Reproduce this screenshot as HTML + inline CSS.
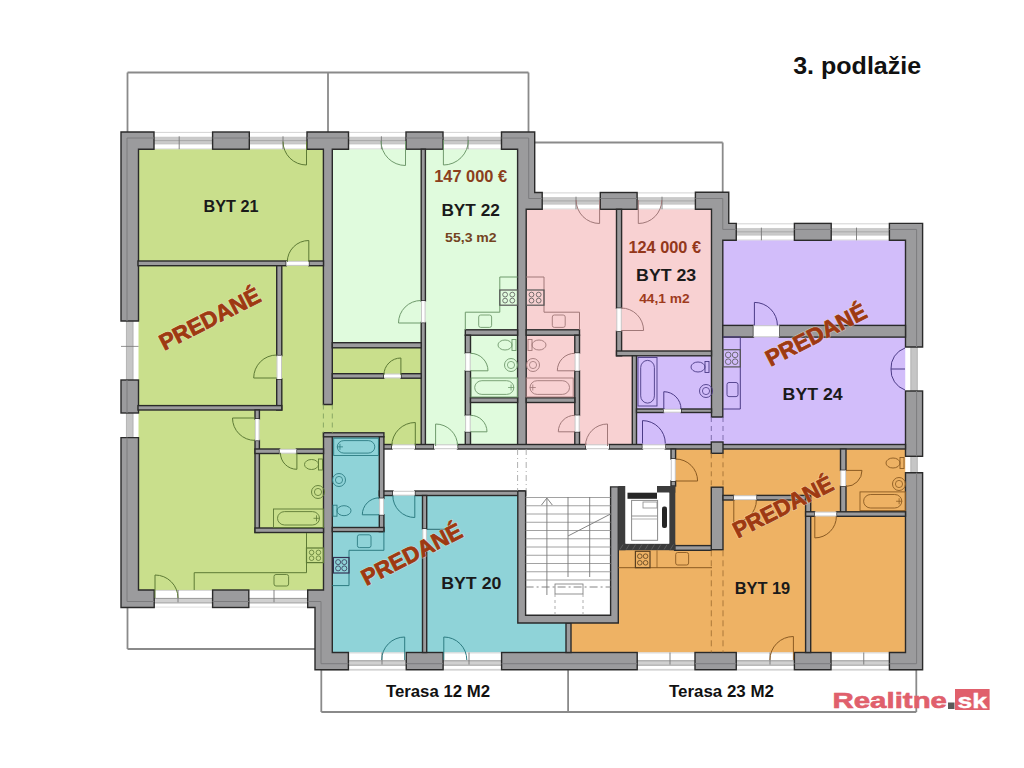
<!DOCTYPE html><html><head><meta charset="utf-8"><style>html,body{margin:0;padding:0;background:#fff;width:1024px;height:768px;overflow:hidden}svg{display:block}text{font-family:"Liberation Sans",sans-serif}</style></head><body>
<svg width="1024" height="768" viewBox="0 0 1024 768">
<rect width="1024" height="768" fill="#fff"/>
<line x1="127.5" y1="72.5" x2="528.5" y2="72.5" stroke="#8a8a8a" stroke-width="1.8" />
<line x1="127.5" y1="72.5" x2="127.5" y2="132" stroke="#8a8a8a" stroke-width="1.8" />
<line x1="328" y1="72.5" x2="328" y2="132" stroke="#8a8a8a" stroke-width="1.8" />
<line x1="528.5" y1="72.5" x2="528.5" y2="132" stroke="#8a8a8a" stroke-width="1.8" />
<line x1="534.7" y1="142.5" x2="722.7" y2="142.5" stroke="#8a8a8a" stroke-width="1.8" />
<line x1="722.7" y1="142.5" x2="722.7" y2="192.5" stroke="#8a8a8a" stroke-width="1.8" />
<line x1="127.5" y1="607" x2="127.5" y2="649" stroke="#8a8a8a" stroke-width="1.8" />
<line x1="127.5" y1="649" x2="315" y2="649" stroke="#8a8a8a" stroke-width="1.8" />
<line x1="321.3" y1="652" x2="321.3" y2="712" stroke="#8a8a8a" stroke-width="1.8" />
<line x1="321.3" y1="712" x2="916.3" y2="712" stroke="#8a8a8a" stroke-width="1.8" />
<line x1="916.3" y1="669.7" x2="916.3" y2="712" stroke="#8a8a8a" stroke-width="1.8" />
<line x1="568.1" y1="669.7" x2="568.1" y2="712" stroke="#8a8a8a" stroke-width="1.8" />
<line x1="321.3" y1="669.7" x2="916.3" y2="669.7" stroke="#8a8a8a" stroke-width="1.2" />
<polygon points="138,149 323.5,149 323.5,347 423,347 423,447 384,447 384,433 323.5,433 323.5,590 138,590" fill="#c9df8c"/>
<rect x="332" y="149" width="91" height="195" fill="#e0fbdd"/>
<rect x="421" y="149" width="97" height="298" fill="#e0fbdd"/>
<polygon points="526,209 712,209 712,356 634,356 634,447 526,447" fill="#f8d1d2"/>
<polygon points="712,240 905.5,240 905.5,446 636,446 636,355 712,355" fill="#d2bdfa"/>
<polygon points="674.6,447 905.5,447 905.5,652.5 568,652.5 568,620 615,620 615,549 674.6,549" fill="#eeb264"/>
<polygon points="332,435 382,435 382,494 518,494 518,620 568,620 568,652.5 332,652.5" fill="#8fd3d8"/>
<rect x="154" y="132" width="58.6" height="17.2" fill="#ffffff"/>
<rect x="154" y="137.16" width="58.6" height="6.88" fill="#cacaca"/>
<line x1="154" y1="140.6" x2="212.6" y2="140.6" stroke="#a4a4a4" stroke-width="0.9" />
<line x1="154" y1="137.16" x2="212.6" y2="137.16" stroke="#bdbdbd" stroke-width="0.6" />
<line x1="154" y1="144.04" x2="212.6" y2="144.04" stroke="#bdbdbd" stroke-width="0.6" />
<line x1="154" y1="132.4" x2="212.6" y2="132.4" stroke="#c8c8c8" stroke-width="0.8" />
<line x1="154" y1="148.79999999999998" x2="212.6" y2="148.79999999999998" stroke="#c8c8c8" stroke-width="0.6" />
<line x1="179.2" y1="136.3" x2="179.2" y2="149.2" stroke="#777" stroke-width="0.9" />
<rect x="249.3" y="132" width="57.7" height="17.2" fill="#ffffff"/>
<rect x="249.3" y="137.16" width="57.7" height="6.88" fill="#cacaca"/>
<line x1="249.3" y1="140.6" x2="307" y2="140.6" stroke="#a4a4a4" stroke-width="0.9" />
<line x1="249.3" y1="137.16" x2="307" y2="137.16" stroke="#bdbdbd" stroke-width="0.6" />
<line x1="249.3" y1="144.04" x2="307" y2="144.04" stroke="#bdbdbd" stroke-width="0.6" />
<line x1="249.3" y1="132.4" x2="307" y2="132.4" stroke="#c8c8c8" stroke-width="0.8" />
<line x1="249.3" y1="148.79999999999998" x2="307" y2="148.79999999999998" stroke="#c8c8c8" stroke-width="0.6" />
<line x1="283" y1="136.3" x2="283" y2="149.2" stroke="#777" stroke-width="0.9" />
<rect x="348.5" y="132" width="57.5" height="17.2" fill="#ffffff"/>
<rect x="348.5" y="137.16" width="57.5" height="6.88" fill="#cacaca"/>
<line x1="348.5" y1="140.6" x2="406" y2="140.6" stroke="#a4a4a4" stroke-width="0.9" />
<line x1="348.5" y1="137.16" x2="406" y2="137.16" stroke="#bdbdbd" stroke-width="0.6" />
<line x1="348.5" y1="144.04" x2="406" y2="144.04" stroke="#bdbdbd" stroke-width="0.6" />
<line x1="348.5" y1="132.4" x2="406" y2="132.4" stroke="#c8c8c8" stroke-width="0.8" />
<line x1="348.5" y1="148.79999999999998" x2="406" y2="148.79999999999998" stroke="#c8c8c8" stroke-width="0.6" />
<line x1="381.4" y1="136.3" x2="381.4" y2="149.2" stroke="#777" stroke-width="0.9" />
<rect x="443" y="132" width="58.5" height="17.2" fill="#ffffff"/>
<rect x="443" y="137.16" width="58.5" height="6.88" fill="#cacaca"/>
<line x1="443" y1="140.6" x2="501.5" y2="140.6" stroke="#a4a4a4" stroke-width="0.9" />
<line x1="443" y1="137.16" x2="501.5" y2="137.16" stroke="#bdbdbd" stroke-width="0.6" />
<line x1="443" y1="144.04" x2="501.5" y2="144.04" stroke="#bdbdbd" stroke-width="0.6" />
<line x1="443" y1="132.4" x2="501.5" y2="132.4" stroke="#c8c8c8" stroke-width="0.8" />
<line x1="443" y1="148.79999999999998" x2="501.5" y2="148.79999999999998" stroke="#c8c8c8" stroke-width="0.6" />
<line x1="468" y1="136.3" x2="468" y2="149.2" stroke="#777" stroke-width="0.9" />
<rect x="542.2" y="192.5" width="58.1" height="16.8" fill="#ffffff"/>
<rect x="542.2" y="197.54" width="58.1" height="6.72" fill="#cacaca"/>
<line x1="542.2" y1="200.9" x2="600.3" y2="200.9" stroke="#a4a4a4" stroke-width="0.9" />
<line x1="542.2" y1="197.54" x2="600.3" y2="197.54" stroke="#bdbdbd" stroke-width="0.6" />
<line x1="542.2" y1="204.26000000000002" x2="600.3" y2="204.26000000000002" stroke="#bdbdbd" stroke-width="0.6" />
<line x1="542.2" y1="192.9" x2="600.3" y2="192.9" stroke="#c8c8c8" stroke-width="0.8" />
<line x1="542.2" y1="208.9" x2="600.3" y2="208.9" stroke="#c8c8c8" stroke-width="0.6" />
<line x1="576" y1="196.7" x2="576" y2="209.3" stroke="#777" stroke-width="0.9" />
<rect x="637.1" y="192.5" width="58.3" height="16.8" fill="#ffffff"/>
<rect x="637.1" y="197.54" width="58.3" height="6.72" fill="#cacaca"/>
<line x1="637.1" y1="200.9" x2="695.4" y2="200.9" stroke="#a4a4a4" stroke-width="0.9" />
<line x1="637.1" y1="197.54" x2="695.4" y2="197.54" stroke="#bdbdbd" stroke-width="0.6" />
<line x1="637.1" y1="204.26000000000002" x2="695.4" y2="204.26000000000002" stroke="#bdbdbd" stroke-width="0.6" />
<line x1="637.1" y1="192.9" x2="695.4" y2="192.9" stroke="#c8c8c8" stroke-width="0.8" />
<line x1="637.1" y1="208.9" x2="695.4" y2="208.9" stroke="#c8c8c8" stroke-width="0.6" />
<line x1="662" y1="196.7" x2="662" y2="209.3" stroke="#777" stroke-width="0.9" />
<rect x="736.25" y="223.4" width="58.15" height="16.9" fill="#ffffff"/>
<rect x="736.25" y="228.47" width="58.15" height="6.76" fill="#cacaca"/>
<line x1="736.25" y1="231.85000000000002" x2="794.4" y2="231.85000000000002" stroke="#a4a4a4" stroke-width="0.9" />
<line x1="736.25" y1="228.47" x2="794.4" y2="228.47" stroke="#bdbdbd" stroke-width="0.6" />
<line x1="736.25" y1="235.23000000000002" x2="794.4" y2="235.23000000000002" stroke="#bdbdbd" stroke-width="0.6" />
<line x1="736.25" y1="223.8" x2="794.4" y2="223.8" stroke="#c8c8c8" stroke-width="0.8" />
<line x1="736.25" y1="239.9" x2="794.4" y2="239.9" stroke="#c8c8c8" stroke-width="0.6" />
<line x1="761.4" y1="227.625" x2="761.4" y2="240.3" stroke="#777" stroke-width="0.9" />
<rect x="831.2" y="223.4" width="58.2" height="16.9" fill="#ffffff"/>
<rect x="831.2" y="228.47" width="58.2" height="6.76" fill="#cacaca"/>
<line x1="831.2" y1="231.85000000000002" x2="889.4" y2="231.85000000000002" stroke="#a4a4a4" stroke-width="0.9" />
<line x1="831.2" y1="228.47" x2="889.4" y2="228.47" stroke="#bdbdbd" stroke-width="0.6" />
<line x1="831.2" y1="235.23000000000002" x2="889.4" y2="235.23000000000002" stroke="#bdbdbd" stroke-width="0.6" />
<line x1="831.2" y1="223.8" x2="889.4" y2="223.8" stroke="#c8c8c8" stroke-width="0.8" />
<line x1="831.2" y1="239.9" x2="889.4" y2="239.9" stroke="#c8c8c8" stroke-width="0.6" />
<line x1="856.5" y1="227.625" x2="856.5" y2="240.3" stroke="#777" stroke-width="0.9" />
<rect x="154.2" y="590" width="58.4" height="17.5" fill="#ffffff"/>
<rect x="154.2" y="598.4" width="58.4" height="4.55" fill="#d0d0d0"/>
<line x1="154.2" y1="598.4" x2="212.6" y2="598.4" stroke="#8e8e8e" stroke-width="0.9" />
<line x1="154.2" y1="602.95" x2="212.6" y2="602.95" stroke="#9a9a9a" stroke-width="0.9" />
<line x1="154.2" y1="590.4" x2="212.6" y2="590.4" stroke="#c8c8c8" stroke-width="0.8" />
<line x1="154.2" y1="607.1" x2="212.6" y2="607.1" stroke="#c8c8c8" stroke-width="0.6" />
<line x1="178" y1="590" x2="178" y2="602.25" stroke="#777" stroke-width="0.9" />
<rect x="248.8" y="590" width="58.9" height="17.5" fill="#ffffff"/>
<rect x="248.8" y="598.4" width="58.9" height="4.55" fill="#d0d0d0"/>
<line x1="248.8" y1="598.4" x2="307.7" y2="598.4" stroke="#8e8e8e" stroke-width="0.9" />
<line x1="248.8" y1="602.95" x2="307.7" y2="602.95" stroke="#9a9a9a" stroke-width="0.9" />
<line x1="248.8" y1="590.4" x2="307.7" y2="590.4" stroke="#c8c8c8" stroke-width="0.8" />
<line x1="248.8" y1="607.1" x2="307.7" y2="607.1" stroke="#c8c8c8" stroke-width="0.6" />
<line x1="274" y1="590" x2="274" y2="602.25" stroke="#777" stroke-width="0.9" />
<rect x="348.4" y="652.5" width="57.85" height="17.2" fill="#ffffff"/>
<rect x="348.4" y="660.756" width="57.85" height="4.47" fill="#d0d0d0"/>
<line x1="348.4" y1="660.756" x2="406.25" y2="660.756" stroke="#8e8e8e" stroke-width="0.9" />
<line x1="348.4" y1="665.2280000000001" x2="406.25" y2="665.2280000000001" stroke="#9a9a9a" stroke-width="0.9" />
<line x1="348.4" y1="652.9" x2="406.25" y2="652.9" stroke="#c8c8c8" stroke-width="0.8" />
<line x1="348.4" y1="669.3000000000001" x2="406.25" y2="669.3000000000001" stroke="#c8c8c8" stroke-width="0.6" />
<line x1="382" y1="652.5" x2="382" y2="664.5400000000001" stroke="#777" stroke-width="0.9" />
<rect x="443.1" y="652.5" width="58.5" height="17.2" fill="#ffffff"/>
<rect x="443.1" y="660.756" width="58.5" height="4.47" fill="#d0d0d0"/>
<line x1="443.1" y1="660.756" x2="501.6" y2="660.756" stroke="#8e8e8e" stroke-width="0.9" />
<line x1="443.1" y1="665.2280000000001" x2="501.6" y2="665.2280000000001" stroke="#9a9a9a" stroke-width="0.9" />
<line x1="443.1" y1="652.9" x2="501.6" y2="652.9" stroke="#c8c8c8" stroke-width="0.8" />
<line x1="443.1" y1="669.3000000000001" x2="501.6" y2="669.3000000000001" stroke="#c8c8c8" stroke-width="0.6" />
<line x1="469" y1="652.5" x2="469" y2="664.5400000000001" stroke="#777" stroke-width="0.9" />
<rect x="637.2" y="652.5" width="57.8" height="17.2" fill="#ffffff"/>
<rect x="637.2" y="660.756" width="57.8" height="4.47" fill="#d0d0d0"/>
<line x1="637.2" y1="660.756" x2="695" y2="660.756" stroke="#8e8e8e" stroke-width="0.9" />
<line x1="637.2" y1="665.2280000000001" x2="695" y2="665.2280000000001" stroke="#9a9a9a" stroke-width="0.9" />
<line x1="637.2" y1="652.9" x2="695" y2="652.9" stroke="#c8c8c8" stroke-width="0.8" />
<line x1="637.2" y1="669.3000000000001" x2="695" y2="669.3000000000001" stroke="#c8c8c8" stroke-width="0.6" />
<line x1="670" y1="652.5" x2="670" y2="664.5400000000001" stroke="#777" stroke-width="0.9" />
<rect x="736.25" y="652.5" width="58.15" height="17.2" fill="#ffffff"/>
<rect x="736.25" y="660.756" width="58.15" height="4.47" fill="#d0d0d0"/>
<line x1="736.25" y1="660.756" x2="794.4" y2="660.756" stroke="#8e8e8e" stroke-width="0.9" />
<line x1="736.25" y1="665.2280000000001" x2="794.4" y2="665.2280000000001" stroke="#9a9a9a" stroke-width="0.9" />
<line x1="736.25" y1="652.9" x2="794.4" y2="652.9" stroke="#c8c8c8" stroke-width="0.8" />
<line x1="736.25" y1="669.3000000000001" x2="794.4" y2="669.3000000000001" stroke="#c8c8c8" stroke-width="0.6" />
<line x1="770" y1="652.5" x2="770" y2="664.5400000000001" stroke="#777" stroke-width="0.9" />
<rect x="831" y="652.5" width="58.4" height="17.2" fill="#ffffff"/>
<rect x="831" y="660.756" width="58.4" height="4.47" fill="#d0d0d0"/>
<line x1="831" y1="660.756" x2="889.4" y2="660.756" stroke="#8e8e8e" stroke-width="0.9" />
<line x1="831" y1="665.2280000000001" x2="889.4" y2="665.2280000000001" stroke="#9a9a9a" stroke-width="0.9" />
<line x1="831" y1="652.9" x2="889.4" y2="652.9" stroke="#c8c8c8" stroke-width="0.8" />
<line x1="831" y1="669.3000000000001" x2="889.4" y2="669.3000000000001" stroke="#c8c8c8" stroke-width="0.6" />
<line x1="863.75" y1="652.5" x2="863.75" y2="664.5400000000001" stroke="#777" stroke-width="0.9" />
<rect x="121" y="321" width="17.5" height="59" fill="#ffffff"/>
<rect x="126.425" y="321" width="6.65" height="59" fill="#c6c6c6"/>
<line x1="126.425" y1="321" x2="126.425" y2="380" stroke="#a8a8a8" stroke-width="0.8" />
<line x1="133.075" y1="321" x2="133.075" y2="380" stroke="#a8a8a8" stroke-width="0.8" />
<line x1="121" y1="346.4" x2="138.5" y2="346.4" stroke="#777" stroke-width="0.8" />
<rect x="121" y="413" width="17.5" height="24.6" fill="#ffffff"/>
<rect x="126.425" y="413" width="6.65" height="24.6" fill="#c6c6c6"/>
<line x1="126.425" y1="413" x2="126.425" y2="437.6" stroke="#a8a8a8" stroke-width="0.8" />
<line x1="133.075" y1="413" x2="133.075" y2="437.6" stroke="#a8a8a8" stroke-width="0.8" />
<rect x="905.5" y="347" width="17.1" height="44" fill="#ffffff"/>
<rect x="910.801" y="347" width="6.5" height="44" fill="#c6c6c6"/>
<line x1="910.801" y1="347" x2="910.801" y2="391" stroke="#a8a8a8" stroke-width="0.8" />
<line x1="917.299" y1="347" x2="917.299" y2="391" stroke="#a8a8a8" stroke-width="0.8" />
<rect x="905.5" y="456.3" width="17.1" height="16.4" fill="#ffffff"/>
<rect x="910.801" y="456.3" width="6.5" height="16.4" fill="#c6c6c6"/>
<line x1="910.801" y1="456.3" x2="910.801" y2="472.7" stroke="#a8a8a8" stroke-width="0.8" />
<line x1="917.299" y1="456.3" x2="917.299" y2="472.7" stroke="#a8a8a8" stroke-width="0.8" />
<polygon points="121,132 154,132 154,149.2 138.5,149.2 138.5,321 121,321" fill="#9b9b9d" stroke="#2a2a2a" stroke-width="1.4" stroke-linejoin="miter"/>
<rect x="121" y="380" width="17.5" height="33" fill="#9b9b9d" stroke="#2a2a2a" stroke-width="1.4"/>
<polygon points="121,437.6 138.5,437.6 138.5,590 154.2,590 154.2,607.5 121,607.5" fill="#9b9b9d" stroke="#2a2a2a" stroke-width="1.4" stroke-linejoin="miter"/>
<rect x="212.6" y="132" width="36.7" height="17.2" fill="#9b9b9d" stroke="#2a2a2a" stroke-width="1.4"/>
<polygon points="307,132 348.5,132 348.5,149.2 332.3,149.2 332.3,404.5 323.4,404.5 323.4,149.2 307,149.2" fill="#9b9b9d" stroke="#2a2a2a" stroke-width="1.4" stroke-linejoin="miter"/>
<rect x="406" y="132" width="37" height="17.2" fill="#9b9b9d" stroke="#2a2a2a" stroke-width="1.4"/>
<polygon points="501.5,132 534.7,132 534.7,192.5 542.2,192.5 542.2,209.3 526.2,209.3 526.2,448 517.6,448 517.6,149.2 501.5,149.2" fill="#9b9b9d" stroke="#2a2a2a" stroke-width="1.4" stroke-linejoin="miter"/>
<rect x="600.3" y="192.5" width="36.8" height="16.8" fill="#9b9b9d" stroke="#2a2a2a" stroke-width="1.4"/>
<polygon points="695.4,192.3 728.75,192.3 728.75,223.4 736.25,223.4 736.25,240.3 722.8,240.3 722.8,417 711.5,417 711.5,209.3 695.4,209.3" fill="#9b9b9d" stroke="#2a2a2a" stroke-width="1.4" stroke-linejoin="miter"/>
<rect x="794.4" y="223.4" width="36.8" height="16.9" fill="#9b9b9d" stroke="#2a2a2a" stroke-width="1.4"/>
<polygon points="889.4,223.4 922.6,223.4 922.6,347 905.5,347 905.5,240.3 889.4,240.3" fill="#9b9b9d" stroke="#2a2a2a" stroke-width="1.4" stroke-linejoin="miter"/>
<rect x="905.5" y="391" width="17.1" height="65.3" fill="#9b9b9d" stroke="#2a2a2a" stroke-width="1.4"/>
<polygon points="905.5,472.7 922.6,472.7 922.6,669.7 889.4,669.7 889.4,652.5 905.5,652.5" fill="#9b9b9d" stroke="#2a2a2a" stroke-width="1.4" stroke-linejoin="miter"/>
<rect x="794.4" y="652.5" width="36.6" height="17.2" fill="#9b9b9d" stroke="#2a2a2a" stroke-width="1.4"/>
<rect x="695" y="652.5" width="41.25" height="17.2" fill="#9b9b9d" stroke="#2a2a2a" stroke-width="1.4"/>
<rect x="501.6" y="652.5" width="135.6" height="17.2" fill="#9b9b9d" stroke="#2a2a2a" stroke-width="1.4"/>
<rect x="406.25" y="652.5" width="36.85" height="17.2" fill="#9b9b9d" stroke="#2a2a2a" stroke-width="1.4"/>
<rect x="212.6" y="590" width="36.2" height="17.5" fill="#9b9b9d" stroke="#2a2a2a" stroke-width="1.4"/>
<polygon points="323.5,433 332.3,433 332.3,652.5 348.4,652.5 348.4,669.7 315,669.7 315,607.5 307.7,607.5 307.7,590 323.5,590" fill="#9b9b9d" stroke="#2a2a2a" stroke-width="1.4" stroke-linejoin="miter"/>
<clipPath id="extc"><polygon points="121,132 154,132 154,149.2 138.5,149.2 138.5,321 121,321" fill="#9b9b9d" stroke="#2a2a2a" stroke-width="1.4" stroke-linejoin="miter"/><rect x="121" y="380" width="17.5" height="33" fill="#9b9b9d" stroke="#2a2a2a" stroke-width="1.4"/><polygon points="121,437.6 138.5,437.6 138.5,590 154.2,590 154.2,607.5 121,607.5" fill="#9b9b9d" stroke="#2a2a2a" stroke-width="1.4" stroke-linejoin="miter"/><rect x="212.6" y="132" width="36.7" height="17.2" fill="#9b9b9d" stroke="#2a2a2a" stroke-width="1.4"/><polygon points="307,132 348.5,132 348.5,149.2 332.3,149.2 332.3,404.5 323.4,404.5 323.4,149.2 307,149.2" fill="#9b9b9d" stroke="#2a2a2a" stroke-width="1.4" stroke-linejoin="miter"/><rect x="406" y="132" width="37" height="17.2" fill="#9b9b9d" stroke="#2a2a2a" stroke-width="1.4"/><polygon points="501.5,132 534.7,132 534.7,192.5 542.2,192.5 542.2,209.3 526.2,209.3 526.2,448 517.6,448 517.6,149.2 501.5,149.2" fill="#9b9b9d" stroke="#2a2a2a" stroke-width="1.4" stroke-linejoin="miter"/><rect x="600.3" y="192.5" width="36.8" height="16.8" fill="#9b9b9d" stroke="#2a2a2a" stroke-width="1.4"/><polygon points="695.4,192.3 728.75,192.3 728.75,223.4 736.25,223.4 736.25,240.3 722.8,240.3 722.8,417 711.5,417 711.5,209.3 695.4,209.3" fill="#9b9b9d" stroke="#2a2a2a" stroke-width="1.4" stroke-linejoin="miter"/><rect x="794.4" y="223.4" width="36.8" height="16.9" fill="#9b9b9d" stroke="#2a2a2a" stroke-width="1.4"/><polygon points="889.4,223.4 922.6,223.4 922.6,347 905.5,347 905.5,240.3 889.4,240.3" fill="#9b9b9d" stroke="#2a2a2a" stroke-width="1.4" stroke-linejoin="miter"/><rect x="905.5" y="391" width="17.1" height="65.3" fill="#9b9b9d" stroke="#2a2a2a" stroke-width="1.4"/><polygon points="905.5,472.7 922.6,472.7 922.6,669.7 889.4,669.7 889.4,652.5 905.5,652.5" fill="#9b9b9d" stroke="#2a2a2a" stroke-width="1.4" stroke-linejoin="miter"/><rect x="794.4" y="652.5" width="36.6" height="17.2" fill="#9b9b9d" stroke="#2a2a2a" stroke-width="1.4"/><rect x="695" y="652.5" width="41.25" height="17.2" fill="#9b9b9d" stroke="#2a2a2a" stroke-width="1.4"/><rect x="501.6" y="652.5" width="135.6" height="17.2" fill="#9b9b9d" stroke="#2a2a2a" stroke-width="1.4"/><rect x="406.25" y="652.5" width="36.85" height="17.2" fill="#9b9b9d" stroke="#2a2a2a" stroke-width="1.4"/><rect x="212.6" y="590" width="36.2" height="17.5" fill="#9b9b9d" stroke="#2a2a2a" stroke-width="1.4"/><polygon points="323.5,433 332.3,433 332.3,652.5 348.4,652.5 348.4,669.7 315,669.7 315,607.5 307.7,607.5 307.7,590 323.5,590" fill="#9b9b9d" stroke="#2a2a2a" stroke-width="1.4" stroke-linejoin="miter"/></clipPath>
<path d="M127,138 H528.7 V198.5 H722.75 V229.4 H916.6 V663.7 H321 V601.5 H127 Z" fill="none" stroke="#7c7c7e" stroke-width="1" clip-path="url(#extc)"/>
<rect x="138" y="261" width="148.3" height="4.7" fill="#9b9b9d" stroke="#2a2a2a" stroke-width="1.4"/>
<rect x="308.8" y="261" width="14.7" height="4.7" fill="#9b9b9d" stroke="#2a2a2a" stroke-width="1.4"/>
<rect x="276.7" y="265.7" width="5.1" height="89.9" fill="#9b9b9d" stroke="#2a2a2a" stroke-width="1.4"/>
<rect x="276.7" y="379" width="5.1" height="31" fill="#9b9b9d" stroke="#2a2a2a" stroke-width="1.4"/>
<rect x="138" y="405.6" width="143.8" height="4.4" fill="#9b9b9d" stroke="#2a2a2a" stroke-width="1.4"/>
<rect x="255" y="410" width="4.4" height="9" fill="#9b9b9d" stroke="#2a2a2a" stroke-width="1.4"/>
<rect x="255" y="440.4" width="4.4" height="92.1" fill="#9b9b9d" stroke="#2a2a2a" stroke-width="1.4"/>
<rect x="255" y="449" width="24.6" height="4.5" fill="#9b9b9d" stroke="#2a2a2a" stroke-width="1.4"/>
<rect x="296.4" y="449" width="27.1" height="4.5" fill="#9b9b9d" stroke="#2a2a2a" stroke-width="1.4"/>
<rect x="255" y="528" width="68.5" height="4.5" fill="#9b9b9d" stroke="#2a2a2a" stroke-width="1.4"/>
<rect x="421.2" y="149.2" width="4.2" height="151.8" fill="#9b9b9d" stroke="#2a2a2a" stroke-width="1.4"/>
<rect x="421.2" y="322.5" width="4.2" height="124.5" fill="#9b9b9d" stroke="#2a2a2a" stroke-width="1.4"/>
<rect x="332.3" y="342.7" width="88.9" height="5.1" fill="#9b9b9d" stroke="#2a2a2a" stroke-width="1.4"/>
<rect x="332.3" y="373.7" width="51.7" height="4.5" fill="#9b9b9d" stroke="#2a2a2a" stroke-width="1.4"/>
<rect x="400.9" y="373.7" width="20.3" height="4.5" fill="#9b9b9d" stroke="#2a2a2a" stroke-width="1.4"/>
<rect x="465.3" y="329.8" width="52.3" height="5.4" fill="#9b9b9d" stroke="#2a2a2a" stroke-width="1.4"/>
<rect x="465.3" y="335.2" width="5.2" height="18.0" fill="#9b9b9d" stroke="#2a2a2a" stroke-width="1.4"/>
<rect x="465.3" y="370.8" width="5.2" height="44.6" fill="#9b9b9d" stroke="#2a2a2a" stroke-width="1.4"/>
<rect x="465.3" y="431.8" width="5.2" height="15.2" fill="#9b9b9d" stroke="#2a2a2a" stroke-width="1.4"/>
<rect x="470.5" y="397.8" width="47.1" height="4.7" fill="#9b9b9d" stroke="#2a2a2a" stroke-width="1.4"/>
<rect x="526.2" y="329.8" width="53.3" height="5.4" fill="#9b9b9d" stroke="#2a2a2a" stroke-width="1.4"/>
<rect x="574.8" y="335.2" width="4.7" height="18.0" fill="#9b9b9d" stroke="#2a2a2a" stroke-width="1.4"/>
<rect x="574.8" y="370.8" width="4.7" height="44.6" fill="#9b9b9d" stroke="#2a2a2a" stroke-width="1.4"/>
<rect x="574.8" y="431.8" width="4.7" height="15.2" fill="#9b9b9d" stroke="#2a2a2a" stroke-width="1.4"/>
<rect x="526.2" y="397.8" width="48.6" height="4.7" fill="#9b9b9d" stroke="#2a2a2a" stroke-width="1.4"/>
<rect x="616.5" y="209.3" width="5.1" height="99.0" fill="#9b9b9d" stroke="#2a2a2a" stroke-width="1.4"/>
<rect x="616.5" y="331.2" width="5.1" height="24.6" fill="#9b9b9d" stroke="#2a2a2a" stroke-width="1.4"/>
<rect x="616.5" y="351" width="95.0" height="4.8" fill="#9b9b9d" stroke="#2a2a2a" stroke-width="1.4"/>
<rect x="632.3" y="355.8" width="4.2" height="91.2" fill="#9b9b9d" stroke="#2a2a2a" stroke-width="1.4"/>
<rect x="722.8" y="325.4" width="30.7" height="11.7" fill="#9b9b9d" stroke="#2a2a2a" stroke-width="1.4"/>
<rect x="779.3" y="325.4" width="126.2" height="11.7" fill="#9b9b9d" stroke="#2a2a2a" stroke-width="1.4"/>
<rect x="636.5" y="409" width="27.2" height="3.5" fill="#9b9b9d" stroke="#2a2a2a" stroke-width="1.4"/>
<rect x="681" y="409" width="30.5" height="3.5" fill="#9b9b9d" stroke="#2a2a2a" stroke-width="1.4"/>
<rect x="379.3" y="444.5" width="12.7" height="4.5" fill="#9b9b9d" stroke="#2a2a2a" stroke-width="1.4"/>
<rect x="415" y="444.5" width="19" height="4.5" fill="#9b9b9d" stroke="#2a2a2a" stroke-width="1.4"/>
<rect x="457.5" y="444.5" width="128.5" height="4.5" fill="#9b9b9d" stroke="#2a2a2a" stroke-width="1.4"/>
<rect x="609" y="444.5" width="33.5" height="4.5" fill="#9b9b9d" stroke="#2a2a2a" stroke-width="1.4"/>
<rect x="665.3" y="444.5" width="240.2" height="4.5" fill="#9b9b9d" stroke="#2a2a2a" stroke-width="1.4"/>
<rect x="379.3" y="491" width="13.7" height="4.5" fill="#9b9b9d" stroke="#2a2a2a" stroke-width="1.4"/>
<rect x="414.8" y="491" width="110.8" height="4.5" fill="#9b9b9d" stroke="#2a2a2a" stroke-width="1.4"/>
<rect x="323.5" y="432.8" width="60.4" height="4.0" fill="#9b9b9d" stroke="#2a2a2a" stroke-width="1.4"/>
<rect x="379.3" y="436.8" width="4.6" height="61.6" fill="#9b9b9d" stroke="#2a2a2a" stroke-width="1.4"/>
<rect x="379.3" y="514.8" width="4.6" height="16.8" fill="#9b9b9d" stroke="#2a2a2a" stroke-width="1.4"/>
<rect x="332.3" y="527.5" width="51.6" height="4.1" fill="#9b9b9d" stroke="#2a2a2a" stroke-width="1.4"/>
<rect x="422.5" y="495.5" width="4.2" height="33.5" fill="#9b9b9d" stroke="#2a2a2a" stroke-width="1.4"/>
<rect x="422.5" y="543.4" width="4.2" height="109.1" fill="#9b9b9d" stroke="#2a2a2a" stroke-width="1.4"/>
<rect x="566" y="623" width="5" height="29.5" fill="#9b9b9d" stroke="#2a2a2a" stroke-width="1.4"/>
<rect x="671" y="449" width="4.6" height="10" fill="#9b9b9d" stroke="#2a2a2a" stroke-width="1.4"/>
<rect x="671" y="481" width="4.6" height="5" fill="#9b9b9d" stroke="#2a2a2a" stroke-width="1.4"/>
<rect x="711.3" y="487.2" width="11.7" height="62.5" fill="#9b9b9d" stroke="#2a2a2a" stroke-width="1.4"/>
<rect x="674.6" y="545.6" width="36.7" height="4.7" fill="#9b9b9d" stroke="#2a2a2a" stroke-width="1.4"/>
<rect x="723" y="495.4" width="10.8" height="4.6" fill="#9b9b9d" stroke="#2a2a2a" stroke-width="1.4"/>
<rect x="756.4" y="495.4" width="53.3" height="4.6" fill="#9b9b9d" stroke="#2a2a2a" stroke-width="1.4"/>
<rect x="805.6" y="495.4" width="5.1" height="157.1" fill="#9b9b9d" stroke="#2a2a2a" stroke-width="1.4"/>
<rect x="840.5" y="449" width="5.5" height="21.4" fill="#9b9b9d" stroke="#2a2a2a" stroke-width="1.4"/>
<rect x="840.5" y="486.1" width="5.5" height="30.2" fill="#9b9b9d" stroke="#2a2a2a" stroke-width="1.4"/>
<rect x="805.6" y="511.8" width="9.2" height="4.5" fill="#9b9b9d" stroke="#2a2a2a" stroke-width="1.4"/>
<rect x="836.4" y="511.8" width="69.1" height="4.5" fill="#9b9b9d" stroke="#2a2a2a" stroke-width="1.4"/>
<rect x="711.3" y="442" width="11.7" height="11.3" fill="#9b9b9d" stroke="#2a2a2a" stroke-width="1.4"/>
<polygon points="517.8,491 525.6,491 525.6,615.3 610.6,615.3 610.6,486.9 618.3,486.9 618.3,623 517.8,623" fill="#9b9b9d" stroke="#2a2a2a" stroke-width="1.4" stroke-linejoin="miter"/>
<rect x="286.3" y="261" width="22.5" height="4.7" fill="#ffffff"/>
<line x1="286.3" y1="261.3" x2="308.8" y2="261.3" stroke="#b0b0b0" stroke-width="0.7" />
<line x1="286.3" y1="265.4" x2="308.8" y2="265.4" stroke="#b0b0b0" stroke-width="0.7" />
<rect x="276.7" y="355.6" width="5.1" height="23.4" fill="#ffffff"/>
<line x1="277.0" y1="355.6" x2="277.0" y2="379" stroke="#b0b0b0" stroke-width="0.7" />
<line x1="281.5" y1="355.6" x2="281.5" y2="379" stroke="#b0b0b0" stroke-width="0.7" />
<rect x="255" y="419" width="4.4" height="21.4" fill="#ffffff"/>
<line x1="255.3" y1="419" x2="255.3" y2="440.4" stroke="#b0b0b0" stroke-width="0.7" />
<line x1="259.09999999999997" y1="419" x2="259.09999999999997" y2="440.4" stroke="#b0b0b0" stroke-width="0.7" />
<rect x="279.6" y="449" width="16.8" height="4.5" fill="#ffffff"/>
<line x1="279.6" y1="449.3" x2="296.4" y2="449.3" stroke="#b0b0b0" stroke-width="0.7" />
<line x1="279.6" y1="453.2" x2="296.4" y2="453.2" stroke="#b0b0b0" stroke-width="0.7" />
<rect x="421.2" y="301" width="4.2" height="21.5" fill="#ffffff"/>
<line x1="421.5" y1="301" x2="421.5" y2="322.5" stroke="#b0b0b0" stroke-width="0.7" />
<line x1="425.09999999999997" y1="301" x2="425.09999999999997" y2="322.5" stroke="#b0b0b0" stroke-width="0.7" />
<rect x="384" y="373.7" width="16.9" height="4.5" fill="#ffffff"/>
<line x1="384" y1="374.0" x2="400.9" y2="374.0" stroke="#b0b0b0" stroke-width="0.7" />
<line x1="384" y1="377.9" x2="400.9" y2="377.9" stroke="#b0b0b0" stroke-width="0.7" />
<rect x="465.3" y="353.2" width="5.2" height="17.6" fill="#ffffff"/>
<line x1="465.6" y1="353.2" x2="465.6" y2="370.8" stroke="#b0b0b0" stroke-width="0.7" />
<line x1="470.2" y1="353.2" x2="470.2" y2="370.8" stroke="#b0b0b0" stroke-width="0.7" />
<rect x="465.3" y="415.4" width="5.2" height="16.4" fill="#ffffff"/>
<line x1="465.6" y1="415.4" x2="465.6" y2="431.8" stroke="#b0b0b0" stroke-width="0.7" />
<line x1="470.2" y1="415.4" x2="470.2" y2="431.8" stroke="#b0b0b0" stroke-width="0.7" />
<rect x="574.8" y="353.2" width="4.7" height="17.6" fill="#ffffff"/>
<line x1="575.0999999999999" y1="353.2" x2="575.0999999999999" y2="370.8" stroke="#b0b0b0" stroke-width="0.7" />
<line x1="579.2" y1="353.2" x2="579.2" y2="370.8" stroke="#b0b0b0" stroke-width="0.7" />
<rect x="574.8" y="415.4" width="4.7" height="16.4" fill="#ffffff"/>
<line x1="575.0999999999999" y1="415.4" x2="575.0999999999999" y2="431.8" stroke="#b0b0b0" stroke-width="0.7" />
<line x1="579.2" y1="415.4" x2="579.2" y2="431.8" stroke="#b0b0b0" stroke-width="0.7" />
<rect x="616.5" y="308.3" width="5.1" height="22.9" fill="#ffffff"/>
<line x1="616.8" y1="308.3" x2="616.8" y2="331.2" stroke="#b0b0b0" stroke-width="0.7" />
<line x1="621.3000000000001" y1="308.3" x2="621.3000000000001" y2="331.2" stroke="#b0b0b0" stroke-width="0.7" />
<rect x="753.5" y="325.4" width="25.8" height="11.7" fill="#ffffff"/>
<line x1="753.5" y1="325.7" x2="779.3" y2="325.7" stroke="#b0b0b0" stroke-width="0.7" />
<line x1="753.5" y1="336.8" x2="779.3" y2="336.8" stroke="#b0b0b0" stroke-width="0.7" />
<rect x="663.7" y="409" width="17.3" height="3.5" fill="#ffffff"/>
<line x1="663.7" y1="409.3" x2="681" y2="409.3" stroke="#b0b0b0" stroke-width="0.7" />
<line x1="663.7" y1="412.2" x2="681" y2="412.2" stroke="#b0b0b0" stroke-width="0.7" />
<rect x="392" y="444.5" width="23" height="4.5" fill="#ffffff"/>
<line x1="392" y1="444.8" x2="415" y2="444.8" stroke="#b0b0b0" stroke-width="0.7" />
<line x1="392" y1="448.7" x2="415" y2="448.7" stroke="#b0b0b0" stroke-width="0.7" />
<rect x="434" y="444.5" width="23.5" height="4.5" fill="#ffffff"/>
<line x1="434" y1="444.8" x2="457.5" y2="444.8" stroke="#b0b0b0" stroke-width="0.7" />
<line x1="434" y1="448.7" x2="457.5" y2="448.7" stroke="#b0b0b0" stroke-width="0.7" />
<rect x="586" y="444.5" width="23" height="4.5" fill="#ffffff"/>
<line x1="586" y1="444.8" x2="609" y2="444.8" stroke="#b0b0b0" stroke-width="0.7" />
<line x1="586" y1="448.7" x2="609" y2="448.7" stroke="#b0b0b0" stroke-width="0.7" />
<rect x="642.5" y="444.5" width="22.8" height="4.5" fill="#ffffff"/>
<line x1="642.5" y1="444.8" x2="665.3" y2="444.8" stroke="#b0b0b0" stroke-width="0.7" />
<line x1="642.5" y1="448.7" x2="665.3" y2="448.7" stroke="#b0b0b0" stroke-width="0.7" />
<rect x="393" y="491" width="21.8" height="4.5" fill="#ffffff"/>
<line x1="393" y1="491.3" x2="414.8" y2="491.3" stroke="#b0b0b0" stroke-width="0.7" />
<line x1="393" y1="495.2" x2="414.8" y2="495.2" stroke="#b0b0b0" stroke-width="0.7" />
<rect x="379.3" y="498.4" width="4.6" height="16.4" fill="#ffffff"/>
<line x1="379.6" y1="498.4" x2="379.6" y2="514.8" stroke="#b0b0b0" stroke-width="0.7" />
<line x1="383.59999999999997" y1="498.4" x2="383.59999999999997" y2="514.8" stroke="#b0b0b0" stroke-width="0.7" />
<rect x="422.5" y="529" width="4.2" height="14.4" fill="#ffffff"/>
<line x1="422.8" y1="529" x2="422.8" y2="543.4" stroke="#b0b0b0" stroke-width="0.7" />
<line x1="426.4" y1="529" x2="426.4" y2="543.4" stroke="#b0b0b0" stroke-width="0.7" />
<rect x="671" y="459" width="4.6" height="22" fill="#ffffff"/>
<line x1="671.3" y1="459" x2="671.3" y2="481" stroke="#b0b0b0" stroke-width="0.7" />
<line x1="675.3000000000001" y1="459" x2="675.3000000000001" y2="481" stroke="#b0b0b0" stroke-width="0.7" />
<rect x="733.8" y="495.4" width="22.6" height="4.6" fill="#ffffff"/>
<line x1="733.8" y1="495.7" x2="756.4" y2="495.7" stroke="#b0b0b0" stroke-width="0.7" />
<line x1="733.8" y1="499.7" x2="756.4" y2="499.7" stroke="#b0b0b0" stroke-width="0.7" />
<rect x="840.5" y="470.4" width="5.5" height="15.7" fill="#ffffff"/>
<line x1="840.8" y1="470.4" x2="840.8" y2="486.1" stroke="#b0b0b0" stroke-width="0.7" />
<line x1="845.7" y1="470.4" x2="845.7" y2="486.1" stroke="#b0b0b0" stroke-width="0.7" />
<rect x="814.8" y="511.8" width="21.6" height="4.5" fill="#ffffff"/>
<line x1="814.8" y1="512.1" x2="836.4" y2="512.1" stroke="#b0b0b0" stroke-width="0.7" />
<line x1="814.8" y1="516.0" x2="836.4" y2="516.0" stroke="#b0b0b0" stroke-width="0.7" />
<rect x="618.3" y="486" width="7.2" height="64.2" fill="#3c3c3c"/>
<rect x="669.2" y="486" width="6.1" height="64.2" fill="#3c3c3c"/>
<rect x="618.3" y="543.6" width="57.0" height="6.6" fill="#3c3c3c"/>
<rect x="657" y="486" width="18.3" height="6.7" fill="#3c3c3c"/>
<rect x="625.5" y="486" width="31.5" height="6.7" fill="#ffffff"/>
<rect x="625.5" y="492.7" width="43.7" height="50.9" fill="#ffffff"/>
<rect x="627.5" y="492.7" width="29.5" height="6.1" fill="#262626"/>
<rect x="631.6" y="500.4" width="26.0" height="39.9" fill="none" stroke="#8a8a8a" stroke-width="1"/>
<line x1="631.6" y1="516" x2="657.6" y2="516" stroke="#8a8a8a" stroke-width="0.9" />
<line x1="631.6" y1="519" x2="657.6" y2="519" stroke="#a0a0a0" stroke-width="0.8" />
<rect x="643" y="502" width="14" height="6" fill="none" stroke="#8a8a8a" stroke-width="0.8"/>
<rect x="662" y="506.5" width="5" height="21.5" rx="2" fill="#262626"/>
<line x1="620.0" y1="549.5" x2="623.0" y2="544.5" stroke="#707070" stroke-width="0.6" />
<line x1="626.3" y1="549.5" x2="629.3" y2="544.5" stroke="#707070" stroke-width="0.6" />
<line x1="632.6" y1="549.5" x2="635.6" y2="544.5" stroke="#707070" stroke-width="0.6" />
<line x1="638.9" y1="549.5" x2="641.9" y2="544.5" stroke="#707070" stroke-width="0.6" />
<line x1="645.2" y1="549.5" x2="648.2" y2="544.5" stroke="#707070" stroke-width="0.6" />
<line x1="651.5" y1="549.5" x2="654.5" y2="544.5" stroke="#707070" stroke-width="0.6" />
<line x1="657.8" y1="549.5" x2="660.8" y2="544.5" stroke="#707070" stroke-width="0.6" />
<line x1="664.1" y1="549.5" x2="667.1" y2="544.5" stroke="#707070" stroke-width="0.6" />
<line x1="670.4" y1="549.5" x2="673.4" y2="544.5" stroke="#707070" stroke-width="0.6" />
<line x1="323.4" y1="404.5" x2="323.4" y2="433" stroke="#7a9a5a" stroke-width="0.8" stroke-dasharray="5,4"/>
<line x1="332.3" y1="404.5" x2="332.3" y2="433" stroke="#7a9a5a" stroke-width="0.8" stroke-dasharray="5,4"/>
<line x1="517.6" y1="449" x2="517.6" y2="491" stroke="#9a9a9a" stroke-width="0.8" stroke-dasharray="6,3,1,3"/>
<line x1="526.2" y1="449" x2="526.2" y2="491" stroke="#9a9a9a" stroke-width="0.8" stroke-dasharray="6,3,1,3"/>
<line x1="711.3" y1="417" x2="711.3" y2="442" stroke="#6a5a9a" stroke-width="0.8" stroke-dasharray="5,4"/>
<line x1="711.3" y1="453.3" x2="711.3" y2="487.2" stroke="#9a6a30" stroke-width="0.8" stroke-dasharray="5,4"/>
<line x1="711.3" y1="550.3" x2="711.3" y2="652.5" stroke="#9a6a30" stroke-width="0.8" stroke-dasharray="6,4"/>
<line x1="723" y1="417" x2="723" y2="442" stroke="#6a5a9a" stroke-width="0.8" stroke-dasharray="5,4"/>
<line x1="723" y1="453.3" x2="723" y2="487.2" stroke="#9a6a30" stroke-width="0.8" stroke-dasharray="5,4"/>
<line x1="723" y1="550.3" x2="723" y2="652.5" stroke="#9a6a30" stroke-width="0.8" stroke-dasharray="6,4"/>
<path d="M306.5,141.5 L306.5,165.0 M283.0,141.5 A23.5,23.5 0 0 0 306.5,165.0" fill="none" stroke="#5d7a35" stroke-width="1"/>
<path d="M308.8,262.0 L308.8,240.5 M287.3,262.0 A21.5,21.5 0 0 1 308.8,240.5" fill="none" stroke="#5d7a35" stroke-width="1"/>
<path d="M276.7,378.0 L253.7,378.0 M276.7,355.0 A23,23 0 0 0 253.7,378.0" fill="none" stroke="#5d7a35" stroke-width="1"/>
<path d="M254.9,418.0 L232.5,418.0 M254.9,440.4 A22.4,22.4 0 0 1 232.5,418.0" fill="none" stroke="#5d7a35" stroke-width="1"/>
<path d="M296.9,452.8 L296.9,469.3 M280.4,452.8 A16.5,16.5 0 0 0 296.9,469.3" fill="none" stroke="#5d7a35" stroke-width="1"/>
<path d="M155.0,598.0 L155.0,575.0 M178.0,598.0 A23,23 0 0 0 155.0,575.0" fill="none" stroke="#5d7a35" stroke-width="1"/>
<path d="M400.9,375.0 L400.9,358.0 M383.9,375.0 A17,17 0 0 1 400.9,358.0" fill="none" stroke="#5d7a35" stroke-width="1"/>
<path d="M415.3,446.0 L415.3,422.5 M391.8,446.0 A23.5,23.5 0 0 1 415.3,422.5" fill="none" stroke="#5d7a35" stroke-width="1"/>
<path d="M405.5,141.0 L405.5,165.5 M381.0,141.0 A24.5,24.5 0 0 0 405.5,165.5" fill="none" stroke="#6f9a6c" stroke-width="1"/>
<path d="M443.4,140.0 L443.4,165.0 M468.4,140.0 A25,25 0 0 1 443.4,165.0" fill="none" stroke="#6f9a6c" stroke-width="1"/>
<path d="M421.0,323.0 L398.5,323.0 M421.0,300.5 A22.5,22.5 0 0 0 398.5,323.0" fill="none" stroke="#6f9a6c" stroke-width="1"/>
<path d="M435.6,446.0 L435.6,424.0 M457.6,446.0 A22,22 0 0 0 435.6,424.0" fill="none" stroke="#6f9a6c" stroke-width="1"/>
<path d="M470.5,370.8 L488.0,370.8 M470.5,353.3 A17.5,17.5 0 0 1 488.0,370.8" fill="none" stroke="#6f9a6c" stroke-width="1"/>
<path d="M470.5,431.8 L487.0,431.8 M470.5,415.3 A16.5,16.5 0 0 1 487.0,431.8" fill="none" stroke="#6f9a6c" stroke-width="1"/>
<path d="M599.6,200.0 L599.6,223.5 M576.1,200.0 A23.5,23.5 0 0 0 599.6,223.5" fill="none" stroke="#a07878" stroke-width="1"/>
<path d="M638.3,200.0 L638.3,223.5 M661.8,200.0 A23.5,23.5 0 0 1 638.3,223.5" fill="none" stroke="#a07878" stroke-width="1"/>
<path d="M621.1,330.5 L643.6,330.5 M621.1,308.0 A22.5,22.5 0 0 1 643.6,330.5" fill="none" stroke="#a07878" stroke-width="1"/>
<path d="M607.5,446.0 L607.5,424.0 M585.5,446.0 A22,22 0 0 1 607.5,424.0" fill="none" stroke="#a07878" stroke-width="1"/>
<path d="M574.8,370.8 L557.3,370.8 M574.8,353.3 A17.5,17.5 0 0 0 557.3,370.8" fill="none" stroke="#a07878" stroke-width="1"/>
<path d="M574.8,431.8 L558.3,431.8 M574.8,415.3 A16.5,16.5 0 0 0 558.3,431.8" fill="none" stroke="#a07878" stroke-width="1"/>
<path d="M754.4,325.4 L754.4,302.4 M777.4,325.4 A23,23 0 0 0 754.4,302.4" fill="none" stroke="#4b3b86" stroke-width="1"/>
<path d="M642.5,443.4 L642.5,420.6 M665.3,443.4 A22.8,22.8 0 0 0 642.5,420.6" fill="none" stroke="#4b3b86" stroke-width="1"/>
<path d="M663.8,409.0 L663.8,391.7 M681.0,409.0 A17.3,17.3 0 0 0 663.8,391.7" fill="none" stroke="#4b3b86" stroke-width="1"/>
<path d="M675.6,481.0 L697.6,481.0 M675.6,459.0 A22,22 0 0 1 697.6,481.0" fill="none" stroke="#8a5a22" stroke-width="1"/>
<path d="M733.8,500.0 L733.8,522.6 M756.4,500.0 A22.6,22.6 0 0 1 733.8,522.6" fill="none" stroke="#8a5a22" stroke-width="1"/>
<path d="M846.0,470.4 L862.0,470.4 M846.0,486.4 A16,16 0 0 0 862.0,470.4" fill="none" stroke="#8a5a22" stroke-width="1"/>
<path d="M814.8,516.3 L814.8,537.9 M836.4,516.3 A21.6,21.6 0 0 1 814.8,537.9" fill="none" stroke="#8a5a22" stroke-width="1"/>
<path d="M793.4,660.0 L793.4,636.5 M769.9,660.0 A23.5,23.5 0 0 1 793.4,636.5" fill="none" stroke="#8a5a22" stroke-width="1"/>
<path d="M404.7,660.0 L404.7,637.0 M381.7,660.0 A23,23 0 0 1 404.7,637.0" fill="none" stroke="#2d7c82" stroke-width="1"/>
<path d="M443.8,660.0 L443.8,637.0 M466.8,660.0 A23,23 0 0 0 443.8,637.0" fill="none" stroke="#2d7c82" stroke-width="1"/>
<path d="M379.3,514.8 L362.3,514.8 M379.3,497.8 A17,17 0 0 0 362.3,514.8" fill="none" stroke="#2d7c82" stroke-width="1"/>
<path d="M414.8,495.5 L414.8,517.5 M392.8,495.5 A22,22 0 0 0 414.8,517.5" fill="none" stroke="#2d7c82" stroke-width="1"/>
<path d="M905,348 A21,21 0 0 0 891,369 A21,21 0 0 0 905,390 M891,369 L905,369" fill="none" stroke="#4b3b86" stroke-width="1"/>
<rect x="273.5" y="509" width="50.0" height="18.6" fill="none" stroke="#5d7a35" stroke-width="0.9"/>
<rect x="277.5" y="511.6" width="42.0" height="13.4" rx="7.1" fill="none" stroke="#5d7a35" stroke-width="0.9"/>
<line x1="313.5" y1="518.3" x2="319.5" y2="518.3" stroke="#5d7a35" stroke-width="0.8" />
<line x1="316.5" y1="515.3" x2="316.5" y2="521.3" stroke="#5d7a35" stroke-width="0.8" />
<rect x="318.5" y="459.0" width="4" height="11" fill="none" stroke="#5d7a35" stroke-width="0.9"/>
<ellipse cx="311.5" cy="464.5" rx="7" ry="5" fill="none" stroke="#5d7a35" stroke-width="0.9"/>
<circle cx="318" cy="492" r="6.5" fill="none" stroke="#5d7a35" stroke-width="0.9"/>
<circle cx="318" cy="492" r="3.6" fill="none" stroke="#5d7a35" stroke-width="0.8"/>
<rect x="306.5" y="548" width="17.0" height="14.6" fill="none" stroke="#5d7a35" stroke-width="1.2"/>
<circle cx="311.6" cy="552.4" r="2.3" fill="none" stroke="#5d7a35" stroke-width="0.8"/>
<circle cx="311.6" cy="558.2" r="2.3" fill="none" stroke="#5d7a35" stroke-width="0.8"/>
<circle cx="318.4" cy="552.4" r="2.3" fill="none" stroke="#5d7a35" stroke-width="0.8"/>
<circle cx="318.4" cy="558.2" r="2.3" fill="none" stroke="#5d7a35" stroke-width="0.8"/>
<polyline points="306.5,533 306.5,572.7 194.2,572.7 194.2,590" fill="none" stroke="#5d7a35" stroke-width="1"/>
<rect x="274" y="574.5" width="14.600000000000023" height="11.5" rx="2" fill="none" stroke="#5d7a35" stroke-width="0.9"/>
<rect x="471" y="378" width="46.6" height="19" fill="none" stroke="#6f9a6c" stroke-width="0.9"/>
<rect x="474.7" y="380.7" width="39.1" height="13.7" rx="7.2" fill="none" stroke="#6f9a6c" stroke-width="0.9"/>
<line x1="508.076" y1="387.5" x2="514.076" y2="387.5" stroke="#6f9a6c" stroke-width="0.8" />
<line x1="511.076" y1="384.5" x2="511.076" y2="390.5" stroke="#6f9a6c" stroke-width="0.8" />
<rect x="512" y="339.5" width="4" height="11" fill="none" stroke="#6f9a6c" stroke-width="0.9"/>
<ellipse cx="505" cy="345" rx="7" ry="5" fill="none" stroke="#6f9a6c" stroke-width="0.9"/>
<circle cx="511" cy="365" r="6.5" fill="none" stroke="#6f9a6c" stroke-width="0.9"/>
<circle cx="511" cy="365" r="3.6" fill="none" stroke="#6f9a6c" stroke-width="0.8"/>
<polyline points="465.3,329.8 465.3,312.2 499.8,312.2 499.8,277 517.6,277" fill="none" stroke="#6f9a6c" stroke-width="1"/>
<rect x="499.8" y="290" width="17.8" height="15.2" fill="none" stroke="#555" stroke-width="1.2"/>
<circle cx="505.1" cy="294.6" r="2.4" fill="none" stroke="#555" stroke-width="0.8"/>
<circle cx="505.1" cy="300.6" r="2.4" fill="none" stroke="#555" stroke-width="0.8"/>
<circle cx="512.3" cy="294.6" r="2.4" fill="none" stroke="#555" stroke-width="0.8"/>
<circle cx="512.3" cy="300.6" r="2.4" fill="none" stroke="#555" stroke-width="0.8"/>
<rect x="478.7" y="315" width="12.900000000000034" height="12.399999999999977" rx="2" fill="none" stroke="#6f9a6c" stroke-width="0.9"/>
<rect x="526.2" y="378" width="47.0" height="19" fill="none" stroke="#a07878" stroke-width="0.9"/>
<rect x="530.0" y="380.7" width="39.5" height="13.7" rx="7.2" fill="none" stroke="#a07878" stroke-width="0.9"/>
<line x1="529.7800000000001" y1="387.5" x2="535.7800000000001" y2="387.5" stroke="#a07878" stroke-width="0.8" />
<line x1="532.7800000000001" y1="384.5" x2="532.7800000000001" y2="390.5" stroke="#a07878" stroke-width="0.8" />
<rect x="528" y="339.5" width="4" height="11" fill="none" stroke="#a07878" stroke-width="0.9"/>
<ellipse cx="539" cy="345" rx="7" ry="5" fill="none" stroke="#a07878" stroke-width="0.9"/>
<circle cx="533" cy="365" r="6.5" fill="none" stroke="#a07878" stroke-width="0.9"/>
<circle cx="533" cy="365" r="3.6" fill="none" stroke="#a07878" stroke-width="0.8"/>
<polyline points="579.5,329.8 579.5,312.2 544,312.2 544,277 526.2,277" fill="none" stroke="#a07878" stroke-width="1"/>
<rect x="526.2" y="290" width="17.8" height="15.2" fill="none" stroke="#555" stroke-width="1.2"/>
<circle cx="531.5" cy="294.6" r="2.4" fill="none" stroke="#555" stroke-width="0.8"/>
<circle cx="531.5" cy="300.6" r="2.4" fill="none" stroke="#555" stroke-width="0.8"/>
<circle cx="538.7" cy="294.6" r="2.4" fill="none" stroke="#555" stroke-width="0.8"/>
<circle cx="538.7" cy="300.6" r="2.4" fill="none" stroke="#555" stroke-width="0.8"/>
<rect x="552.3" y="315" width="12.900000000000091" height="12.399999999999977" rx="2" fill="none" stroke="#a07878" stroke-width="0.9"/>
<rect x="638" y="357.5" width="19" height="48.5" fill="none" stroke="#4b3b86" stroke-width="0.9"/>
<rect x="640.7" y="360.4" width="13.7" height="42.7" rx="7.2" fill="none" stroke="#4b3b86" stroke-width="0.9"/>
<rect x="705" y="361.5" width="4" height="11" fill="none" stroke="#4b3b86" stroke-width="0.9"/>
<ellipse cx="698" cy="367" rx="7" ry="5" fill="none" stroke="#4b3b86" stroke-width="0.9"/>
<circle cx="706" cy="391" r="6.5" fill="none" stroke="#4b3b86" stroke-width="0.9"/>
<circle cx="706" cy="391" r="3.6" fill="none" stroke="#4b3b86" stroke-width="0.8"/>
<polyline points="723,337 740.3,337 740.3,409 723,409" fill="none" stroke="#4b3b86" stroke-width="1"/>
<rect x="723" y="349.7" width="17.3" height="17.2" fill="none" stroke="#555" stroke-width="1.2"/>
<circle cx="728.2" cy="354.9" r="2.8" fill="none" stroke="#555" stroke-width="0.8"/>
<circle cx="728.2" cy="361.7" r="2.8" fill="none" stroke="#555" stroke-width="0.8"/>
<circle cx="735.1" cy="354.9" r="2.8" fill="none" stroke="#555" stroke-width="0.8"/>
<circle cx="735.1" cy="361.7" r="2.8" fill="none" stroke="#555" stroke-width="0.8"/>
<rect x="727" y="382.5" width="11" height="14.100000000000023" rx="2" fill="none" stroke="#4b3b86" stroke-width="0.9"/>
<rect x="860" y="491.9" width="45.5" height="18.7" fill="none" stroke="#8a5a22" stroke-width="0.9"/>
<rect x="863.6" y="494.5" width="38.2" height="13.5" rx="7.1" fill="none" stroke="#8a5a22" stroke-width="0.9"/>
<line x1="896.13" y1="501.25" x2="902.13" y2="501.25" stroke="#8a5a22" stroke-width="0.8" />
<line x1="899.13" y1="498.25" x2="899.13" y2="504.25" stroke="#8a5a22" stroke-width="0.8" />
<rect x="900" y="457.5" width="4" height="11" fill="none" stroke="#8a5a22" stroke-width="0.9"/>
<ellipse cx="893" cy="463" rx="7" ry="5" fill="none" stroke="#8a5a22" stroke-width="0.9"/>
<circle cx="899" cy="484" r="6.5" fill="none" stroke="#8a5a22" stroke-width="0.9"/>
<circle cx="899" cy="484" r="3.6" fill="none" stroke="#8a5a22" stroke-width="0.8"/>
<polyline points="618.3,567.7 712,567.7" fill="none" stroke="#8a5a22" stroke-width="1"/>
<rect x="635.4" y="551.3" width="14.6" height="16.4" fill="none" stroke="#5a4020" stroke-width="1.2"/>
<circle cx="639.8" cy="556.2" r="2.3" fill="none" stroke="#5a4020" stroke-width="0.8"/>
<circle cx="639.8" cy="562.8" r="2.3" fill="none" stroke="#5a4020" stroke-width="0.8"/>
<circle cx="645.6" cy="556.2" r="2.3" fill="none" stroke="#5a4020" stroke-width="0.8"/>
<circle cx="645.6" cy="562.8" r="2.3" fill="none" stroke="#5a4020" stroke-width="0.8"/>
<rect x="675.7" y="552.5" width="12.899999999999977" height="12.5" rx="2" fill="none" stroke="#8a5a22" stroke-width="0.9"/>
<line x1="657" y1="550.3" x2="657" y2="567.7" stroke="#8a5a22" stroke-width="0.8" />
<rect x="333.7" y="438.2" width="44.7" height="17.3" fill="none" stroke="#2d7c82" stroke-width="0.9"/>
<rect x="337.3" y="440.6" width="37.5" height="12.5" rx="6.6" fill="none" stroke="#2d7c82" stroke-width="0.9"/>
<line x1="336.95799999999997" y1="446.85" x2="342.95799999999997" y2="446.85" stroke="#2d7c82" stroke-width="0.8" />
<line x1="339.95799999999997" y1="443.85" x2="339.95799999999997" y2="449.85" stroke="#2d7c82" stroke-width="0.8" />
<circle cx="339" cy="480" r="6.5" fill="none" stroke="#2d7c82" stroke-width="0.9"/>
<circle cx="339" cy="480" r="3.6" fill="none" stroke="#2d7c82" stroke-width="0.8"/>
<rect x="333" y="505.2" width="4" height="11" fill="none" stroke="#2d7c82" stroke-width="0.9"/>
<ellipse cx="344" cy="510.7" rx="7" ry="5" fill="none" stroke="#2d7c82" stroke-width="0.9"/>
<rect x="357.4" y="534.8" width="13.600000000000023" height="12.800000000000068" rx="2" fill="none" stroke="#2d7c82" stroke-width="0.9"/>
<polyline points="383.9,531.6 383.9,550.3 349,550.3 349,585.6 332.3,585.6" fill="none" stroke="#2d7c82" stroke-width="1"/>
<line x1="426.7" y1="529.3" x2="449" y2="529.3" stroke="#2d6c72" stroke-width="1" />
<rect x="333.4" y="557.5" width="15.6" height="15.5" fill="none" stroke="#335" stroke-width="1.2"/>
<circle cx="338.1" cy="562.1" r="2.5" fill="none" stroke="#335" stroke-width="0.8"/>
<circle cx="338.1" cy="568.4" r="2.5" fill="none" stroke="#335" stroke-width="0.8"/>
<circle cx="344.3" cy="562.1" r="2.5" fill="none" stroke="#335" stroke-width="0.8"/>
<circle cx="344.3" cy="568.4" r="2.5" fill="none" stroke="#335" stroke-width="0.8"/>
<line x1="525.6" y1="497.5" x2="610.6" y2="497.5" stroke="#8a8a8a" stroke-width="0.8" />
<line x1="525.6" y1="505.75" x2="610.6" y2="505.75" stroke="#8a8a8a" stroke-width="0.8" />
<line x1="525.6" y1="514.0" x2="610.6" y2="514.0" stroke="#8a8a8a" stroke-width="0.8" />
<line x1="525.6" y1="522.25" x2="610.6" y2="522.25" stroke="#8a8a8a" stroke-width="0.8" />
<line x1="525.6" y1="530.5" x2="610.6" y2="530.5" stroke="#8a8a8a" stroke-width="0.8" />
<line x1="525.6" y1="538.75" x2="610.6" y2="538.75" stroke="#8a8a8a" stroke-width="0.8" />
<line x1="525.6" y1="547.0" x2="610.6" y2="547.0" stroke="#8a8a8a" stroke-width="0.8" />
<line x1="525.6" y1="555.25" x2="610.6" y2="555.25" stroke="#8a8a8a" stroke-width="0.8" />
<line x1="525.6" y1="563.5" x2="610.6" y2="563.5" stroke="#8a8a8a" stroke-width="0.8" />
<line x1="525.6" y1="571.75" x2="610.6" y2="571.75" stroke="#8a8a8a" stroke-width="0.8" />
<line x1="525.6" y1="580.0" x2="610.6" y2="580.0" stroke="#8a8a8a" stroke-width="0.8" />
<line x1="568" y1="497" x2="568" y2="577" stroke="#777" stroke-width="0.9" />
<line x1="589.7" y1="497" x2="589.7" y2="577" stroke="#777" stroke-width="0.9" />
<line x1="546.9" y1="499" x2="546.9" y2="595" stroke="#777" stroke-width="0.9" />
<path d="M541.5,505 L546.9,498 L552.3,505" fill="none" stroke="#777" stroke-width="0.9"/>
<line x1="568" y1="536" x2="610.6" y2="514" stroke="#777" stroke-width="0.9" />
<line x1="525.6" y1="587" x2="610.6" y2="587" stroke="#777" stroke-width="0.9" stroke-dasharray="8,3,2,3"/>
<rect x="555" y="584" width="28" height="10" fill="none" stroke="#777" stroke-width="0.8"/>
<line x1="555" y1="594" x2="555" y2="615" stroke="#999" stroke-width="0.8" stroke-dasharray="3,3"/>
<line x1="583" y1="594" x2="583" y2="615" stroke="#999" stroke-width="0.8" stroke-dasharray="3,3"/>
<text x="203.50" y="211.60" font-size="16.6" font-weight="bold" fill="#1a1a1a" textLength="54.90" lengthAdjust="spacingAndGlyphs">BYT 21</text>
<text x="434.20" y="182.00" font-size="16.3" font-weight="bold" fill="#8b3f1c" textLength="72.90" lengthAdjust="spacingAndGlyphs">147 000 €</text>
<text x="441.40" y="216.00" font-size="16.0" font-weight="bold" fill="#1a1a1a" textLength="58.50" lengthAdjust="spacingAndGlyphs">BYT 22</text>
<text x="445.10" y="241.80" font-size="12.2" font-weight="bold" fill="#74431f" textLength="51.60" lengthAdjust="spacingAndGlyphs">55,3 m2</text>
<text x="628.40" y="252.90" font-size="16.3" font-weight="bold" fill="#93381b" textLength="72.60" lengthAdjust="spacingAndGlyphs">124 000 €</text>
<text x="636.10" y="280.50" font-size="16.5" font-weight="bold" fill="#1a1a1a" textLength="60.10" lengthAdjust="spacingAndGlyphs">BYT 23</text>
<text x="639.20" y="302.70" font-size="12.8" font-weight="bold" fill="#9e3b1d" textLength="50.50" lengthAdjust="spacingAndGlyphs">44,1 m2</text>
<text x="782.60" y="399.80" font-size="16.9" font-weight="bold" fill="#1a1a1a" textLength="60.10" lengthAdjust="spacingAndGlyphs">BYT 24</text>
<text x="441.20" y="588.80" font-size="17.0" font-weight="bold" fill="#1a1a1a" textLength="60.20" lengthAdjust="spacingAndGlyphs">BYT 20</text>
<text x="734.70" y="594.20" font-size="17.0" font-weight="bold" fill="#1a1a1a" textLength="55.50" lengthAdjust="spacingAndGlyphs">BYT 19</text>
<text x="385.90" y="697.00" font-size="16.0" font-weight="bold" fill="#111111" textLength="104.10" lengthAdjust="spacingAndGlyphs">Terasa 12 M2</text>
<text x="669.00" y="697.00" font-size="16.0" font-weight="bold" fill="#111111" textLength="104.90" lengthAdjust="spacingAndGlyphs">Terasa 23 M2</text>
<text x="793.20" y="73.60" font-size="24.0" font-weight="bold" fill="#111111" textLength="128.00" lengthAdjust="spacingAndGlyphs">3. podlažie</text>
<text x="0" y="0" font-size="22.5" font-weight="bold" fill="#9e3912" stroke="#f4e0c8" stroke-opacity="0.45" stroke-width="2.2" stroke-linejoin="round" textLength="110.36" lengthAdjust="spacingAndGlyphs" transform="translate(164.20,350.80) rotate(-27)">PREDANÉ</text>
<text x="0" y="0" font-size="22.5" font-weight="bold" fill="#9e3912" stroke="#9e3912" stroke-width="0.7" stroke-linejoin="round" textLength="110.36" lengthAdjust="spacingAndGlyphs" transform="translate(164.20,350.80) rotate(-27)">PREDANÉ</text>
<text x="0" y="0" font-size="22.5" font-weight="bold" fill="#9e3912" stroke="#f4e0c8" stroke-opacity="0.45" stroke-width="2.2" stroke-linejoin="round" textLength="110.01" lengthAdjust="spacingAndGlyphs" transform="translate(770.50,366.70) rotate(-27)">PREDANÉ</text>
<text x="0" y="0" font-size="22.5" font-weight="bold" fill="#9e3912" stroke="#9e3912" stroke-width="0.7" stroke-linejoin="round" textLength="110.01" lengthAdjust="spacingAndGlyphs" transform="translate(770.50,366.70) rotate(-27)">PREDANÉ</text>
<text x="0" y="0" font-size="22.5" font-weight="bold" fill="#9e3912" stroke="#f4e0c8" stroke-opacity="0.45" stroke-width="2.2" stroke-linejoin="round" textLength="109.49" lengthAdjust="spacingAndGlyphs" transform="translate(737.70,538.60) rotate(-27)">PREDANÉ</text>
<text x="0" y="0" font-size="22.5" font-weight="bold" fill="#9e3912" stroke="#9e3912" stroke-width="0.7" stroke-linejoin="round" textLength="109.49" lengthAdjust="spacingAndGlyphs" transform="translate(737.70,538.60) rotate(-27)">PREDANÉ</text>
<text x="0" y="0" font-size="22.5" font-weight="bold" fill="#9e3912" stroke="#f4e0c8" stroke-opacity="0.45" stroke-width="2.2" stroke-linejoin="round" textLength="109.84" lengthAdjust="spacingAndGlyphs" transform="translate(366.30,586.00) rotate(-27)">PREDANÉ</text>
<text x="0" y="0" font-size="22.5" font-weight="bold" fill="#9e3912" stroke="#9e3912" stroke-width="0.7" stroke-linejoin="round" textLength="109.84" lengthAdjust="spacingAndGlyphs" transform="translate(366.30,586.00) rotate(-27)">PREDANÉ</text>
<text x="832.5" y="708.3" font-size="22" font-weight="bold" fill="#e0606c" stroke="#e0606c" stroke-width="0.6" textLength="114.5" lengthAdjust="spacingAndGlyphs">Realitne</text>
<rect x="948" y="702.5" width="6.5" height="6.5" fill="#5a5a5a"/>
<rect x="955" y="689" width="34.6" height="21" fill="#e0606c"/>
<text x="957.5" y="708" font-size="21" font-weight="bold" fill="#ffffff" stroke="#ffffff" stroke-width="0.4" textLength="29.5" lengthAdjust="spacingAndGlyphs">sk</text>
</svg></body></html>
